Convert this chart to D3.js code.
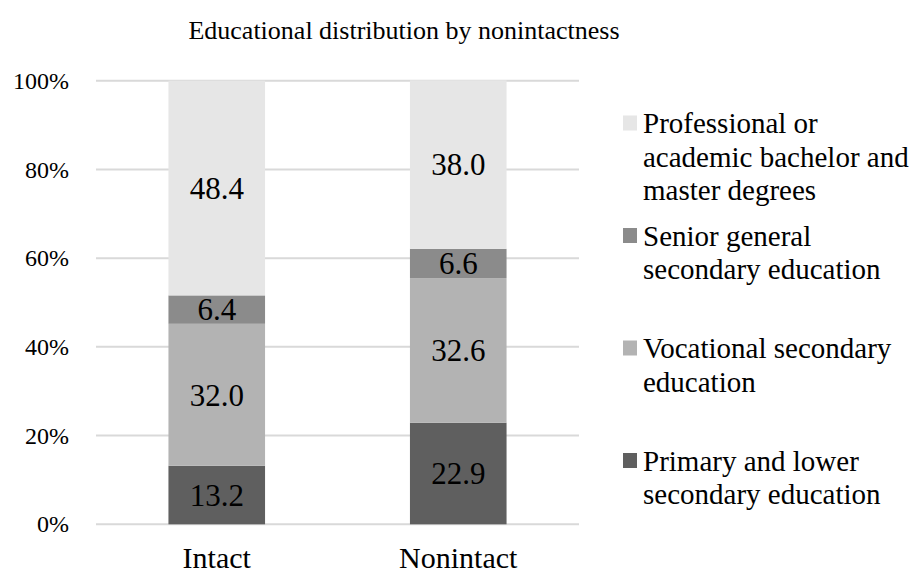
<!DOCTYPE html>
<html>
<head>
<meta charset="utf-8">
<script src="https://cdn.jsdelivr.net/npm/d3@7"></script>
<style>
  body {margin:0; background:#fff;}
</style>
</head>
<body>
<svg id="holder"></svg>
<script>
// data
var categories=['Intact','Nonintact'];
var seriesNames=['Primary and lower secondary education','Vocational secondary education','Senior general secondary education','Professional or academic bachelor and master degrees'];
var primaryVals=[13.2,22.9];
var vocationalVals=[32.0,32.6];
var seniorVals=[6.4,6.6];
var professionalVals=[48.4,38.0];
var yTicks=[0,20,40,60,80,100];
var legendLines=[
    ['Professional or','academic bachelor and','master degrees'],
    ['Senior general','secondary education'],
    ['Vocational secondary','education'],
    ['Primary and lower','secondary education']
];
var colors=['#5f5f5f','#b3b3b3','#8b8b8b','#e6e6e6'];

var FONT='Liberation Serif, Times New Roman, serif';
var width=913, height=575;
var plot_left=96, plot_right=579, plot_top=80.7, plot_bottom=524.3;

var table=categories.map(function(c,i) {
    return {cat:c, s0:primaryVals[i], s1:vocationalVals[i], s2:seniorVals[i], s3:professionalVals[i]};
});
var keys=['s0','s1','s2','s3'];
var stacked=d3.stack().keys(keys)(table);

var svg=d3.select('#holder').attr('width',width).attr('height',height)
    .attr('font-family',FONT);

var xscale=d3.scaleBand().domain(categories).range([plot_left,plot_right]).paddingInner(0.6).paddingOuter(0.3);
var yscale=d3.scaleLinear().domain([0,100]).range([plot_bottom,plot_top]);

// gridlines
svg.append('g').selectAll('line').data(yTicks).enter().append('line')
    .attr('x1',plot_left).attr('x2',plot_right)
    .attr('y1',function(d) {return yscale(d);})
    .attr('y2',function(d) {return yscale(d);})
    .attr('stroke','#d9d9d9').attr('stroke-width',2);

// y axis labels
var y_axis=d3.axisLeft(yscale).tickValues(yTicks).tickFormat(function(d) {return d+'%';}).tickSize(0).tickPadding(27);
var Y=svg.append('g').attr('transform','translate('+plot_left+',0)').call(y_axis)
    .attr('font-family',FONT).attr('font-size',24);
Y.select('.domain').remove();
Y.selectAll('text').attr('fill','#000');

// bars
var layers=svg.append('g').selectAll('g').data(stacked).enter().append('g')
    .attr('fill',function(d,i) {return colors[i];});
layers.selectAll('rect').data(function(d) {return d;}).enter().append('rect')
    .attr('x',function(d) {return xscale(d.data.cat);})
    .attr('width',xscale.bandwidth())
    .attr('y',function(d) {return yscale(d[1]);})
    .attr('height',function(d) {return yscale(d[0])-yscale(d[1]);});

// data labels
layers.selectAll('text').data(function(d) {return d;}).enter().append('text')
    .attr('x',function(d) {return xscale(d.data.cat)+xscale.bandwidth()/2;})
    .attr('y',function(d) {return (yscale(d[0])+yscale(d[1]))/2;})
    .attr('dy','0.35em')
    .attr('text-anchor','middle')
    .attr('font-size',31)
    .attr('fill','#000')
    .text(function(d) {return (d[1]-d[0]).toFixed(1);});

// x axis labels
var x_axis=d3.axisBottom(xscale).tickSize(0).tickPadding(22);
var X=svg.append('g').attr('transform','translate(0,'+plot_bottom+')').call(x_axis)
    .attr('font-family',FONT).attr('font-size',30);
X.select('.domain').remove();
X.selectAll('text').attr('fill','#000');

// title
svg.append('text')
    .attr('x',404).attr('y',39)
    .attr('text-anchor','middle')
    .attr('font-size',26)
    .attr('fill','#000')
    .text('Educational distribution by nonintactness');

// legend, top entry is the last series
var legend_x=623, legend_y0=123, entry_step=112.5, line_step=33.5;
var lg=svg.append('g').selectAll('g').data(legendLines).enter().append('g')
    .attr('transform',function(d,i) {return 'translate('+legend_x+','+(legend_y0+i*entry_step)+')';});
lg.append('rect')
    .attr('x',0).attr('y',-7.5).attr('width',14).attr('height',15)
    .attr('fill',function(d,i) {return colors[colors.length-1-i];});
lg.each(function(lines) {
    var t=d3.select(this).append('text').attr('font-size',29).attr('fill','#000');
    lines.forEach(function(s,j) {
        t.append('tspan').attr('x',20).attr('y',j*line_step).attr('dy','0.35em').text(s);
    });
});
</script>
</body>
</html>
